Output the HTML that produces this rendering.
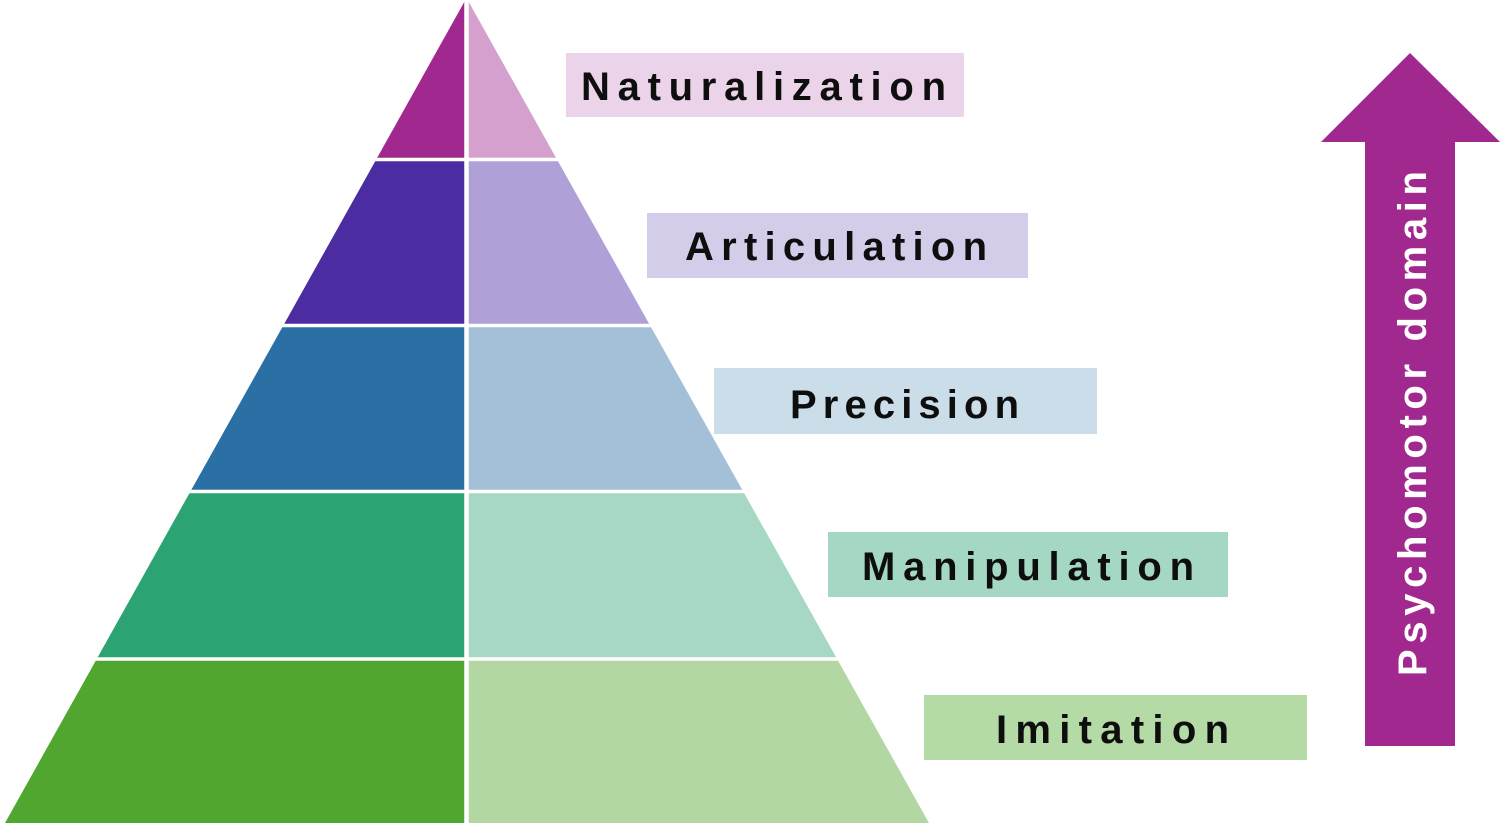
<!DOCTYPE html>
<html>
<head>
<meta charset="utf-8">
<style>
  html, body { margin: 0; padding: 0; background: #ffffff; }
  body { width: 1502px; height: 828px; overflow: hidden; }
  svg { display: block; }
  .lbl { font-family: "Liberation Sans", "DejaVu Sans", sans-serif; font-weight: bold; font-size: 40px; fill: #0e0e0e; }
  .vt { font-family: "Liberation Sans", "DejaVu Sans", sans-serif; font-weight: bold; font-size: 40px; fill: #ffffff; }
</style>
</head>
<body>
<svg width="1502" height="828" viewBox="0 0 1502 828" xmlns="http://www.w3.org/2000/svg">
  <rect x="0" y="0" width="1502" height="828" fill="#ffffff"/>

  <!-- Pyramid left halves -->
  <polygon points="466.5,-2 466.5,159.5 376.2,159.5" fill="#A1288F"/>
  <polygon points="376.2,159.5 466.5,159.5 466.5,325.5 283.3,325.5" fill="#4B2CA1"/>
  <polygon points="283.3,325.5 466.5,325.5 466.5,491.5 190.4,491.5" fill="#2B70A5"/>
  <polygon points="190.4,491.5 466.5,491.5 466.5,659 96.7,659" fill="#2CA373"/>
  <polygon points="96.7,659 466.5,659 466.5,823 5,823" fill="#50A62F"/>

  <!-- Pyramid right halves -->
  <polygon points="466.5,-2 557.0,159.5 466.5,159.5" fill="#D5A0CE"/>
  <polygon points="466.5,159.5 557.0,159.5 650.1,325.5 466.5,325.5" fill="#AFA1D8"/>
  <polygon points="466.5,325.5 650.1,325.5 743.2,491.5 466.5,491.5" fill="#A4C0D8"/>
  <polygon points="466.5,491.5 743.2,491.5 837.1,659 466.5,659" fill="#A6D8C3"/>
  <polygon points="466.5,659 837.1,659 929,823 466.5,823" fill="#B2D7A2"/>

  <!-- White separators -->
  <g stroke="#ffffff" fill="none">
    <line x1="0" y1="159.5" x2="950" y2="159.5" stroke-width="3.5"/>
    <line x1="0" y1="325.5" x2="950" y2="325.5" stroke-width="3.5"/>
    <line x1="0" y1="491.5" x2="950" y2="491.5" stroke-width="3.5"/>
    <line x1="0" y1="659" x2="950" y2="659" stroke-width="3.5"/>
    <line x1="466.5" y1="-5" x2="466.5" y2="830" stroke-width="4.5"/>
  </g>

  <!-- Label boxes -->
  <rect x="566" y="53" width="398" height="64" fill="#EBD4EA"/>
  <rect x="647" y="213" width="381" height="65" fill="#D4CDEA"/>
  <rect x="714" y="368" width="383" height="66" fill="#CCDDEA"/>
  <rect x="828" y="532" width="400" height="65" fill="#A4D8C3"/>
  <rect x="924" y="695" width="383" height="65" fill="#B4DAA6"/>

  <!-- Labels -->
  <text class="lbl" x="581" y="100" textLength="365" lengthAdjust="spacing">Naturalization</text>
  <text class="lbl" x="685" y="260" textLength="302" lengthAdjust="spacing">Articulation</text>
  <text class="lbl" x="790" y="418" textLength="229" lengthAdjust="spacing">Precision</text>
  <text class="lbl" x="862" y="580" textLength="332" lengthAdjust="spacing">Manipulation</text>
  <text class="lbl" x="996" y="743" textLength="233" lengthAdjust="spacing">Imitation</text>

  <!-- Arrow -->
  <polygon points="1410,53 1500,142 1455,142 1455,746 1365,746 1365,142 1321,142" fill="#A0288F"/>
  <text class="vt" transform="translate(1426,676) rotate(-90)" x="0" y="0" textLength="505" lengthAdjust="spacing">Psychomotor domain</text>
</svg>
</body>
</html>
